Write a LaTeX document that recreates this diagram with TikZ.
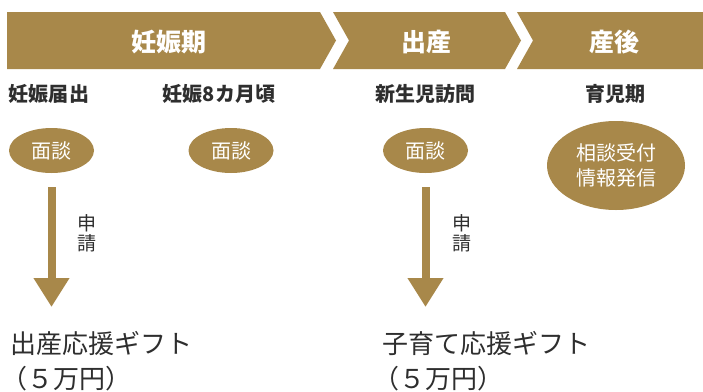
\documentclass[tikz,border=0pt]{standalone}
\usepackage{fontspec}
\usepackage{tikz}
\usetikzlibrary{shapes,arrows.meta,positioning}
\newfontfamily\jpfont{Noto Sans CJK JP}
\definecolor{ninGold}{HTML}{A8884A}
\definecolor{ninText}{HTML}{2E2E2E}

\begin{document}
\begin{tikzpicture}[x=1pt, y=-1pt,
          bar/.style={fill=ninGold, draw=none},
          phase/.style={font=\jpfont\bfseries\fontsize{25}{25}\selectfont, text=white, inner sep=0},
          event/.style={font=\jpfont\bfseries\fontsize{20}{20}\selectfont, text=ninText, inner sep=0},
          talk/.style={ellipse, fill=ninGold, text=white, minimum width=85pt, minimum height=45pt, inner sep=0, font=\jpfont\fontsize{20}{20}\selectfont},
          flow/.style={-{Triangle[width=34pt, length=29pt]}, line width=8pt, draw=ninGold},
          note/.style={font=\jpfont\fontsize{19}{20}\selectfont, text=ninText, inner sep=0, align=center},
          gift/.style={font=\jpfont\fontsize{26}{35}\selectfont, text=ninText, inner sep=0, align=left, anchor=north west}
        ]
          \useasboundingbox (0,0) rectangle (703,391);
          % phase bar
          \fill[bar] (7,12) -- (320,12) -- (336,40.5) -- (320,69) -- (7,69) -- cycle;
          \fill[bar] (333,12) -- (505,12) -- (521,40.5) -- (505,69) -- (333,69) -- (349,40.5) -- cycle;
          \fill[bar] (517,12) -- (703,12) -- (703,69) -- (517,69) -- (533,40.5) -- cycle;
          \node[phase] (ph1) at (169,42) {妊娠期};
          \node[phase] (ph2) at (426,42) {出産};
          \node[phase] (ph3) at (614,42) {産後};
          % events
          \node[event] (ev1) at (49,94) {妊娠届出};
          \node[event] (ev2) at (219,94) {妊娠8カ月頃};
          \node[event] (ev3) at (425.5,94) {新生児訪問};
          \node[event] (ev4) at (615,94) {育児期};
          \node[talk] (mt1) at (51.5,150.5) {面談};
          \node[talk] (mt2) at (231,150.5) {面談};
          \node[talk] (mt3) at (425.5,150.5) {面談};
          \node[talk, minimum width=138pt, minimum height=89pt, align=center, font=\jpfont\fontsize{20}{25}\selectfont] (mt4) at (616,165.5) {相談受付\\情報発信};
          % gifts
          \node[gift] (gift1) at (10,331) {出産応援ギフト\\\hspace*{-9pt}（５万円）};
          \node[gift] (gift2) at (382,331) {子育て応援ギフト\\\hspace*{-9pt}（５万円）};
          \draw[flow, shorten <=14pt, shorten >=24pt] (mt1.south) -- node[note, pos=0.38, right=22pt] {申\\請} (mt1.south |- gift1.north);
          \draw[flow, shorten <=14pt, shorten >=24pt] (mt3.south) -- node[note, pos=0.38, right=23pt] {申\\請} (mt3.south |- gift2.north);
        \end{tikzpicture}
\end{document}
